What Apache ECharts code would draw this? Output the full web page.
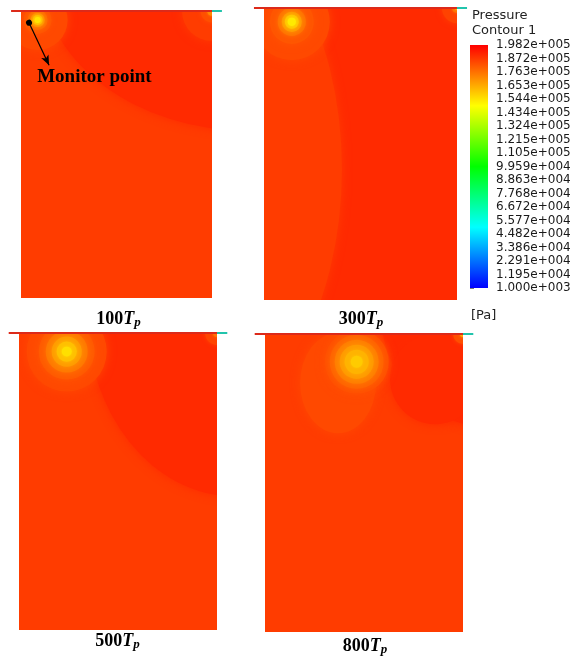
<!DOCTYPE html>
<html>
<head>
<meta charset="utf-8">
<script src="https://cdn.jsdelivr.net/npm/echarts@6/dist/echarts.min.js"></script>
<style>
html, body { margin: 0; padding: 0; background: #fff; }
#chart { width: 574px; height: 656px; }
</style>
</head>
<body>
<div id="chart"></div>
<script>
// colour bar range and labels (Pa)
const levelMin = 1000;
const levelMax = 198200;
const levelLabels = ['1.000e+003', '1.195e+004', '2.291e+004', '3.386e+004', '4.482e+004',
  '5.577e+004', '6.672e+004', '7.768e+004', '8.863e+004', '9.959e+004', '1.105e+005',
  '1.215e+005', '1.324e+005', '1.434e+005', '1.544e+005', '1.653e+005', '1.763e+005',
  '1.872e+005', '1.982e+005'];
const rainbow = ['#0000ff', '#00ffff', '#00ff00', '#ffff00', '#ff0000'];

// time step of each snapshot
const stepNames = ['100', '300', '500', '800'];

// contour regions, painted in order: [cx, cy, rx, ry, pressure]
// domain x 0..100 (left->right), y 0..150 (bottom->top)
const regions100 = [
  [50, 75, 200, 200, 186600],
  [120.4, 170.9, 110.4, 83.7, 190100],
  [17.8, 150, 5.2, 5.2, 190100],
  [100, 150, 15.7, 15.7, 186600],
  [100, 150, 6, 6, 183000],
  [100, 150, 2.5, 2.5, 172000],
  [8.7, 145.3, 15.7, 15.7, 184000],
  [8.7, 145.3, 7.3, 7.3, 181500],
  [8.7, 145.3, 5.2, 5.2, 177000],
  [8.7, 145.3, 3.7, 3.7, 170000],
  [8.7, 145.3, 2.6, 2.6, 162000],
  [8.7, 145.3, 1.6, 1.6, 154000]
];
const regions300 = [
  [50, 75, 200, 200, 190100],
  [-41.5, 67.1, 81.9, 134.7, 186600],
  [100, 150, 7.8, 7.8, 185500],
  [100, 150, 2.6, 2.6, 177000],
  [100, 150, 1, 1, 160000],
  [14.4, 142.9, 19.7, 19.7, 184000],
  [14.4, 142.9, 11.4, 11.4, 181500],
  [14.4, 142.9, 7.3, 7.3, 176000],
  [14.4, 142.9, 5.2, 5.2, 168000],
  [14.4, 142.9, 3.6, 3.6, 160000],
  [14.4, 142.9, 2.1, 2.1, 153000]
];
const regions500 = [
  [50, 75, 200, 200, 186600],
  [108.6, 160.1, 74.4, 92.5, 190100],
  [11.6, 150, 4.5, 4.5, 189000],
  [100, 150, 6, 6, 185000],
  [100, 150, 2, 2, 176000],
  [24.1, 140.6, 20.2, 20.2, 184000],
  [24.1, 140.6, 14.1, 14.1, 181000],
  [24.1, 140.6, 10.6, 10.6, 175000],
  [24.1, 140.6, 7.6, 7.6, 168000],
  [24.1, 140.6, 5.1, 5.1, 161000],
  [24.1, 140.6, 2.5, 2.5, 155000]
];
const regions800 = [
  [50, 75, 200, 200, 186600],
  [116.2, 160.1, 57.6, 57.6, 190100],
  [85.9, 127.3, 22.7, 22.7, 190100],
  [100, 150, 5, 5, 183000],
  [100, 150, 1.5, 1.5, 165000],
  [36.9, 125.3, 19.2, 25.3, 184000],
  [46.3, 136.0, 16.2, 16.2, 183000],
  [46.3, 136.0, 13.6, 13.6, 179500],
  [46.3, 136.0, 11.1, 11.1, 174000],
  [46.3, 136.0, 8.6, 8.6, 168500],
  [46.3, 136.0, 6.1, 6.1, 163500],
  [46.3, 136.0, 3.0, 3.0, 159000]
];
const allRegions = [regions100, regions300, regions500, regions800];

// top wall and outlet of the tank: [xStart, xEnd, y, kind]
const wallSegments = [[-5.2, 100, 150, 0], [100, 105.2, 150, 1]];
const wallColors = ['#dc2a1a', '#22c4ac'];

// monitor point annotation (panel 100Tp)
const monitorPoint = [4.2, 143.9];
const monitorArrowEnd = [14.7, 121.6];
const monitorLabelAt = [8.2, 115.3];

const panels = [
  { left: 21, top: 11, width: 191, height: 287, labelX: 118.5, labelY: 319 },
  { left: 264, top: 8, width: 193, height: 292, labelX: 361, labelY: 319 },
  { left: 19, top: 333, width: 198, height: 297, labelX: 117.5, labelY: 641 },
  { left: 265, top: 334, width: 198, height: 298, labelX: 365, labelY: 646 }
];

const chart = echarts.init(document.getElementById('chart'));

function drawRegion(params, api) {
  const c = api.coord([api.value(0), api.value(1)]);
  const s = api.size([api.value(2), api.value(3)]);
  const fill = api.visual('color');
  return {
    type: 'circle',
    x: c[0],
    y: c[1],
    scaleY: s[1] / s[0],
    shape: { cx: 0, cy: 0, r: s[0] },
    style: {
      fill: fill, stroke: null,
      shadowBlur: Math.min(10, Math.max(3, s[0] * 0.4)), shadowColor: fill
    },
    silent: true
  };
}

function drawWall(params, api) {
  const a = api.coord([api.value(0), api.value(2)]);
  const b = api.coord([api.value(1), api.value(2)]);
  return {
    type: 'line',
    shape: { x1: a[0], y1: a[1], x2: b[0], y2: b[1] },
    style: { stroke: wallColors[api.value(3)], lineWidth: 2 },
    silent: true
  };
}

// colour bar: one rect spanning the level axis, filled with the colour map
function drawColorBar(params, api) {
  const top = api.coord([0, api.value(1)]);
  const bottom = api.coord([1, api.value(0)]);
  const stops = rainbow.map((c, k) => ({ offset: k / (rainbow.length - 1), color: c }));
  return {
    type: 'rect',
    shape: { x: top[0], y: top[1], width: bottom[0] - top[0], height: bottom[1] - top[1] },
    style: { fill: new echarts.graphic.LinearGradient(0, 1, 0, 0, stops) },
    silent: true
  };
}

const grids = panels.map(p => ({ left: p.left, top: p.top, width: p.width, height: p.height, show: false }));
// colour bar
grids.push({ left: 470, top: 45, width: 18, height: 243, show: false });

const xAxes = panels.map((p, i) => ({ type: 'value', gridIndex: i, min: 0, max: 100, show: false }));
xAxes.push({ type: 'value', gridIndex: 4, min: 0, max: 1, show: false });
const yAxes = panels.map((p, i) => ({ type: 'value', gridIndex: i, min: 0, max: 150, show: false }));
yAxes.push({
  type: 'value', gridIndex: 4, min: 0, max: levelLabels.length - 1, interval: 1,
  position: 'right',
  axisLine: { show: false },
  axisTick: { show: true, length: 4, lineStyle: { color: '#777' } },
  minorTick: { show: true, splitNumber: 5, length: 2, lineStyle: { color: '#999' } },
  splitLine: { show: false },
  axisLabel: {
    margin: 8, color: '#1a1a1a', fontFamily: 'DejaVu Sans', fontSize: 12,
    formatter: v => levelLabels[v]
  }
});

const series = [];
allRegions.forEach((regions, i) => {
  series.push({
    type: 'custom',
    xAxisIndex: i,
    yAxisIndex: i,
    clip: true,
    renderItem: drawRegion,
    data: regions,
    silent: true
  });
});
allRegions.forEach((regions, i) => {
  const wall = {
    type: 'custom',
    xAxisIndex: i,
    yAxisIndex: i,
    clip: false,
    renderItem: drawWall,
    data: wallSegments,
    silent: true,
    z: 5
  };
  if (i === 0) {
    wall.markLine = {
      silent: true,
      symbol: ['circle', 'arrow'],
      symbolSize: [6, 10],
      lineStyle: { color: '#000', width: 1.2, type: 'solid' },
      label: { show: false },
      data: [[{ coord: monitorPoint }, { coord: monitorArrowEnd }]]
    };
    wall.markPoint = {
      silent: true,
      symbol: 'circle',
      symbolSize: 1,
      itemStyle: { color: 'rgba(0,0,0,0)' },
      label: {
        show: true, position: 'right', distance: 0,
        formatter: 'Monitor point',
        fontFamily: 'Liberation Serif', fontWeight: 'bold', fontSize: 19, color: '#000'
      },
      data: [{ coord: monitorLabelAt }]
    };
  }
  series.push(wall);
});
series.push({
  type: 'custom',
  xAxisIndex: 4,
  yAxisIndex: 4,
  renderItem: drawColorBar,
  data: [[0, levelLabels.length - 1]],
  silent: true
});

// time step captions, e.g. 100Tp
const captions = panels.map((p, i) => ({
  type: 'text',
  x: p.labelX,
  y: p.labelY,
  style: {
    text: '{n|' + stepNames[i] + '}{t|T}{s|p}',
    align: 'center',
    verticalAlign: 'middle',
    rich: {
      n: { fontFamily: 'Liberation Serif', fontWeight: 'bold', fontSize: 18, fill: '#000' },
      t: { fontFamily: 'Liberation Serif', fontWeight: 'bold', fontStyle: 'italic', fontSize: 18, fill: '#000' },
      s: { fontFamily: 'Liberation Serif', fontWeight: 'bold', fontStyle: 'italic', fontSize: 13, fill: '#000', padding: [7, 0, 0, 0] }
    }
  }
}));

const legendTexts = [
  { type: 'text', x: 472, y: 16, style: { text: 'Pressure', font: '13px "DejaVu Sans"', fill: '#222', verticalAlign: 'middle' } },
  { type: 'text', x: 472, y: 30.5, style: { text: 'Contour 1', font: '13px "DejaVu Sans"', fill: '#222', verticalAlign: 'middle' } },
  { type: 'text', x: 471, y: 316, style: { text: '[Pa]', font: '13px "DejaVu Sans"', fill: '#222', verticalAlign: 'middle' } }
];

chart.setOption({
  animation: false,
  backgroundColor: '#fff',
  grid: grids,
  xAxis: xAxes,
  yAxis: yAxes,
  visualMap: {
    type: 'continuous',
    show: false,
    seriesIndex: [0, 1, 2, 3],
    dimension: 4,
    min: levelMin,
    max: levelMax,
    inRange: { color: rainbow }
  },
  graphic: captions.concat(legendTexts),
  series: series
});
</script>
</body>
</html>
